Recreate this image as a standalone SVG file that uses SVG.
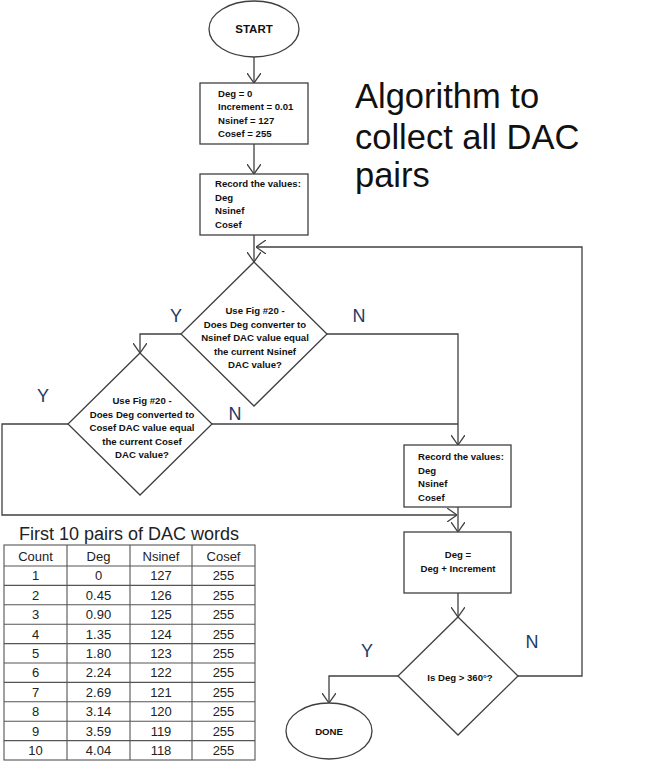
<svg xmlns="http://www.w3.org/2000/svg" width="650" height="763" viewBox="0 0 650 763">
<style>
.shape{fill:#fff;stroke:#404040;stroke-width:1.3}
.con{fill:none;stroke:#404040;stroke-width:1.3}
.t{font-family:"Liberation Sans",Arial,sans-serif;font-weight:bold;font-size:9.6px;fill:#111}
.tc{text-anchor:middle}
.yn{font-family:"Liberation Sans",Arial,sans-serif;font-size:18px;fill:#223a66;text-anchor:middle}
.title{font-family:"Liberation Sans",Arial,sans-serif;font-size:34.5px;fill:#111}
.tbl{font-family:"Liberation Sans",Arial,sans-serif;font-size:13px;fill:#222;text-anchor:middle}
.grid{fill:none;stroke:#555;stroke-width:1.1}
</style>
<defs>
<marker id="arr" viewBox="0 0 10 14" refX="10" refY="7" markerWidth="10" markerHeight="14" markerUnits="userSpaceOnUse" orient="auto">
<path d="M0,0 L10,7 L0,14" fill="none" stroke="#404040" stroke-width="1.3"/>
</marker>
</defs>
<rect width="650" height="763" fill="#fff"/>

<g id="connectors">
<path class="con" d="M254,57 V83" marker-end="url(#arr)"/>
<path class="con" d="M254,144 V174" marker-end="url(#arr)"/>
<path class="con" d="M254,235 V262" marker-end="url(#arr)"/>
<path class="con" d="M518,676 H582 V247 H256" marker-end="url(#arr)"/>
<path class="con" d="M181,334 H140 V353" marker-end="url(#arr)"/>
<path class="con" d="M327,334 H458 V445" marker-end="url(#arr)"/>
<path class="con" d="M212,424 H458"/>
<path class="con" d="M68,424 H2 V515 H457" marker-end="url(#arr)"/>
<path class="con" d="M458,507 V532" marker-end="url(#arr)"/>
<path class="con" d="M458,593 V617" marker-end="url(#arr)"/>
<path class="con" d="M398,676 H329 V703" marker-end="url(#arr)"/>
</g>

<g id="start">
<ellipse class="shape" cx="254" cy="29" rx="45" ry="28"/>
<text class="t tc" x="254" y="33" style="font-size:11.5px">START</text>
</g>

<g id="init">
<rect class="shape" x="200" y="83" width="108" height="61"/>
<text class="t" x="218" y="97">Deg = 0</text>
<text class="t" x="218" y="110">Increment = 0.01</text>
<text class="t" x="218" y="123.5">Nsinef = 127</text>
<text class="t" x="218" y="137">Cosef = 255</text>
</g>

<g id="record1">
<rect class="shape" x="200" y="174" width="108" height="61"/>
<text class="t" x="215" y="187">Record the values:</text>
<text class="t" x="215" y="200.5">Deg</text>
<text class="t" x="215" y="214">Nsinef</text>
<text class="t" x="215" y="227.5">Cosef</text>
</g>

<g id="title">
<text class="title" x="355" y="108">Algorithm to</text>
<text class="title" x="355" y="149">collect all DAC</text>
<text class="title" x="355" y="187">pairs</text>
</g>

<g id="decision1">
<polygon class="shape" points="254,262 327,334 254,406 181,334"/>
<text class="t tc" x="255" y="314">Use Fig #20 -</text>
<text class="t tc" x="255" y="327.5">Does Deg converter to</text>
<text class="t tc" x="255" y="341">Nsinef DAC value equal</text>
<text class="t tc" x="255" y="354.5">the current Nsinef</text>
<text class="t tc" x="255" y="368">DAC value?</text>
</g>
<text class="yn" x="176" y="322">Y</text>
<text class="yn" x="359" y="322">N</text>

<g id="decision2">
<polygon class="shape" points="140,353 212,424 140,495 68,424"/>
<text class="t tc" x="142" y="404">Use Fig #20 -</text>
<text class="t tc" x="142" y="417.5">Does Deg converted to</text>
<text class="t tc" x="142" y="431">Cosef DAC value equal</text>
<text class="t tc" x="142" y="444.5">the current Cosef</text>
<text class="t tc" x="142" y="458">DAC value?</text>
</g>
<text class="yn" x="43" y="402">Y</text>
<text class="yn" x="235" y="420">N</text>

<g id="record2">
<rect class="shape" x="404" y="445" width="107" height="62"/>
<text class="t" x="418" y="460">Record the values:</text>
<text class="t" x="418" y="473.5">Deg</text>
<text class="t" x="418" y="487">Nsinef</text>
<text class="t" x="418" y="500.5">Cosef</text>
</g>

<g id="increment">
<rect class="shape" x="404" y="532" width="107" height="61"/>
<text class="t tc" x="458" y="558">Deg =</text>
<text class="t tc" x="458" y="572">Deg + Increment</text>
</g>

<g id="decision3">
<polygon class="shape" points="458,617 518,676 458,735 398,676"/>
<text class="t tc" x="460" y="681">Is Deg &gt; 360°?</text>
</g>
<text class="yn" x="367" y="657">Y</text>
<text class="yn" x="532" y="648">N</text>

<g id="done">
<ellipse class="shape" cx="329" cy="731" rx="43" ry="28"/>
<text class="t tc" x="329" y="735">DONE</text>
</g>

<g id="table">
<text x="129" y="540" style="font-family:'Liberation Sans',Arial,sans-serif;font-size:18px;fill:#222;text-anchor:middle">First 10 pairs of DAC words</text>
<rect class="grid" x="4" y="545" width="251" height="215"/>
<path class="grid" d="M67,545 V760 M130,545 V760 M192,545 V760 M4,566 H255 M4,585.4 H255 M4,604.8 H255 M4,624.2 H255 M4,643.6 H255 M4,663 H255 M4,682.4 H255 M4,701.8 H255 M4,721.2 H255 M4,740.6 H255"/>
<g class="tbl">
<text x="35.5" y="560.5">Count</text><text x="98.5" y="560.5">Deg</text><text x="161" y="560.5">Nsinef</text><text x="223.5" y="560.5">Cosef</text>
<text x="35.5" y="580.3">1</text><text x="98.5" y="580.3">0</text><text x="161" y="580.3">127</text><text x="223.5" y="580.3">255</text>
<text x="35.5" y="599.7">2</text><text x="98.5" y="599.7">0.45</text><text x="161" y="599.7">126</text><text x="223.5" y="599.7">255</text>
<text x="35.5" y="619.1">3</text><text x="98.5" y="619.1">0.90</text><text x="161" y="619.1">125</text><text x="223.5" y="619.1">255</text>
<text x="35.5" y="638.5">4</text><text x="98.5" y="638.5">1.35</text><text x="161" y="638.5">124</text><text x="223.5" y="638.5">255</text>
<text x="35.5" y="657.9">5</text><text x="98.5" y="657.9">1.80</text><text x="161" y="657.9">123</text><text x="223.5" y="657.9">255</text>
<text x="35.5" y="677.3">6</text><text x="98.5" y="677.3">2.24</text><text x="161" y="677.3">122</text><text x="223.5" y="677.3">255</text>
<text x="35.5" y="696.7">7</text><text x="98.5" y="696.7">2.69</text><text x="161" y="696.7">121</text><text x="223.5" y="696.7">255</text>
<text x="35.5" y="716.1">8</text><text x="98.5" y="716.1">3.14</text><text x="161" y="716.1">120</text><text x="223.5" y="716.1">255</text>
<text x="35.5" y="735.5">9</text><text x="98.5" y="735.5">3.59</text><text x="161" y="735.5">119</text><text x="223.5" y="735.5">255</text>
<text x="35.5" y="754.9">10</text><text x="98.5" y="754.9">4.04</text><text x="161" y="754.9">118</text><text x="223.5" y="754.9">255</text>
</g>
</g>
</svg>
